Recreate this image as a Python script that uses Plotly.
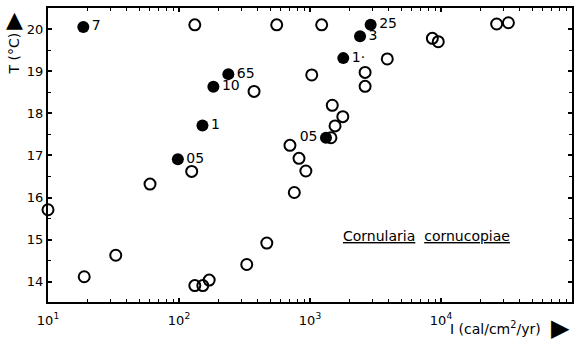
import plotly.graph_objects as go

# Irradiance I (cal/cm^2/yr) and temperature T (deg C)
open_I = [132, 557, 1228, 26600, 32700, 8590, 9530, 3890, 2634, 2634, 1031, 374,
          1479, 1780, 1553, 1445, 703, 824, 930, 125, 759, 60.1, 10, 32.9, 18.9,
          468, 329, 170, 152, 132]
open_T = [20.1, 20.1, 20.1, 20.12, 20.15, 19.78, 19.7, 19.29, 18.97, 18.64, 18.91, 18.52,
          18.19, 17.92, 17.70, 17.42, 17.24, 16.93, 16.63, 16.62, 16.12, 16.32, 15.71, 14.63, 14.12,
          14.92, 14.41, 14.04, 13.91, 13.91]

filled_I = [18.6, 2904, 2410, 1795, 238, 183, 151, 98, 1324]
filled_T = [20.05, 20.1, 19.83, 19.31, 18.93, 18.63, 17.71, 16.91, 17.42]
filled_lbl = ["7", "25", "3", "1·", "65", "10", "1", "05", "05"]
filled_pos = ["middle right"] * 8 + ["middle left"]

x_ticks = [10, 100, 1000, 10000, 100000]
x_tick_text = ["10<sup>1</sup>", "10<sup>2</sup>", "10<sup>3</sup>", "10<sup>4</sup>", "10<sup>5</sup>"]
y_ticks = [14, 15, 16, 17, 18, 19, 20]

minor_x = [m * 10 ** e for e in range(1, 5) for m in range(2, 10)]
minor_y = [v + 0.5 for v in range(13, 21)]

font_family = "DejaVu Sans"

fig = go.Figure()
fig.add_trace(go.Scatter(
    x=open_I, y=open_T, mode="markers",
    marker=dict(symbol="circle-open", size=11, color="black", line=dict(width=2)),
    showlegend=False, cliponaxis=False,
))
fig.add_trace(go.Scatter(
    x=filled_I, y=filled_T, mode="markers+text",
    text=filled_lbl, textposition=filled_pos,
    textfont=dict(family=font_family, size=14, color="black"),
    marker=dict(symbol="circle", size=12, color="black"),
    showlegend=False, cliponaxis=False,
))

axis_common = dict(
    showline=True, linecolor="black", linewidth=2, mirror="ticks",
    ticks="inside", ticklen=4, tickwidth=1.5, tickcolor="black",
    showgrid=False, zeroline=False,
    tickfont=dict(family=font_family, size=13, color="black"),
)

fig.update_xaxes(
    type="log", range=[1, 5], tickmode="array", tickvals=x_ticks, ticktext=x_tick_text,
    ticklabelstandoff=5,
    minor=dict(tickmode="array", tickvals=minor_x, ticks="inside", ticklen=3,
               tickcolor="black", tickwidth=1, showgrid=False),
    **axis_common,
)
fig.update_yaxes(
    range=[13.52, 20.5], tickmode="array", tickvals=y_ticks,
    minor=dict(tickmode="array", tickvals=minor_y, ticks="inside", ticklen=3,
               tickcolor="black", tickwidth=1, showgrid=False),
    **axis_common,
)

fig.add_annotation(
    x=0.723, y=0.223, xref="paper", yref="paper", showarrow=False,
    xanchor="center", yanchor="middle",
    text="<u>Cornularia</u>  <u>cornucopiae</u>",
    font=dict(family=font_family, size=14, color="black"),
)
fig.add_annotation(
    x=-0.065, y=0.845, xref="paper", yref="paper", showarrow=False, textangle=-90,
    xanchor="center", yanchor="middle",
    text="T (°C)", font=dict(family=font_family, size=14, color="black"),
)
fig.add_annotation(
    x=-0.063, y=0.96, xref="paper", yref="paper", showarrow=False,
    xanchor="center", yanchor="middle",
    text="▲", font=dict(family=font_family, size=22, color="black"),
)
fig.add_annotation(
    x=0.945, y=-0.09, xref="paper", yref="paper", showarrow=False,
    xanchor="right", yanchor="middle",
    text="I (cal/cm<sup>2</sup>/yr)", font=dict(family=font_family, size=14, color="black"),
)
fig.add_annotation(
    x=1.0, y=-0.09, xref="paper", yref="paper", showarrow=False,
    xanchor="right", yanchor="middle",
    text="▶", font=dict(family=font_family, size=24, color="black"),
)

fig.update_layout(
    width=583, height=353,
    margin=dict(l=48, r=11, t=6, b=51),
    paper_bgcolor="white", plot_bgcolor="white",
    font=dict(family=font_family, color="black"),
)

fig.write_html("out.html")
